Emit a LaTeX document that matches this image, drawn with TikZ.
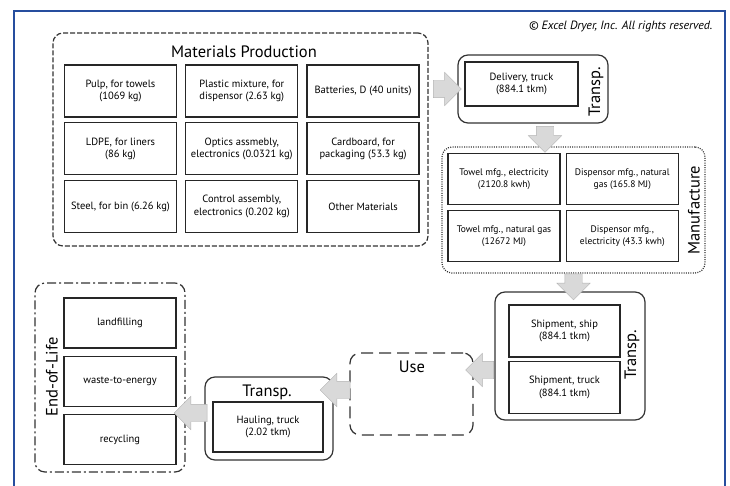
\documentclass[tikz,border=0pt]{standalone}
\usepackage{fontspec}
\setmainfont{PT Sans}
\usetikzlibrary{positioning,calc,shapes.arrows}
\definecolor{framebl}{RGB}{38,78,158}
\tikzstyle{procbox} = [draw=black!85,line width=1.3pt,minimum width=112pt,minimum height=51pt,align=center,inner sep=1pt,font=\fontsize{10.5}{12.5}\selectfont]
\tikzstyle{stage} = [draw=black!80,line width=1.2pt,rounded corners=10pt]
\tikzstyle{head} = [font=\fontsize{16.5}{18}\selectfont]
\tikzstyle{blockarrow} = [single arrow,draw=gray!60,fill=gray!30,minimum height=28pt,single arrow head extend=8pt,inner xsep=0pt,inner ysep=8.5pt]

\begin{document}
\begin{tikzpicture}[x=1pt,y=-1pt]
\useasboundingbox (0,0) rectangle (730,486);
\draw[framebl,line width=2.5pt] (14,11) rectangle (725,500);
\node[anchor=east,font=\fontsize{12}{14}\selectfont\itshape] (copy) at (716,27) {© Excel Dryer, Inc. All rights reserved.};

%Materials production
\node[stage,dash pattern=on 5pt off 2pt,minimum width=375pt,minimum height=213pt] (mp) at (240.5,139.5) {};
\node[head] (mptitle) at (244,52) {Materials Production};
\node[procbox,minimum height=52pt] (pulp) at (120.5,91) {Pulp, for towels\\(1069 kg)};
\node[procbox,minimum height=52pt,right=8pt of pulp] (plastic) {Plastic mixture, for\\dispensor (2.63 kg)};
\node[procbox,minimum height=52pt,right=8pt of plastic] (batt) {Batteries, D (40 units)};
\node[procbox,minimum height=52pt,below=4.5pt of pulp] (ldpe) {LDPE, for liners\\(86 kg)};
\node[procbox,minimum height=52pt,below=4.5pt of plastic] (optics) {Optics assmebly,\\electronics (0.0321 kg)};
\node[procbox,minimum height=52pt,below=4.5pt of batt] (card) {Cardboard, for\\packaging (53.3 kg)};
\node[procbox,minimum height=52pt,below=4.5pt of ldpe] (steel) {Steel, for bin (6.26 kg)};
\node[procbox,minimum height=52pt,below=4.5pt of optics] (control) {Control assembly,\\electronics (0.202 kg)};
\node[procbox,minimum height=52pt,below=4.5pt of card] (other) {Other Materials};

%Transport to factory
\node[stage,minimum width=150pt,minimum height=68pt] (transpA) at (533,89) {};
\node[procbox,minimum width=113pt,minimum height=44pt] (delivery) at (521.5,84) {Delivery, truck\\(884.1 tkm)};
\node[head,rotate=90] (transpAlbl) at (596,92) {Transp.};

%Manufacture
\node[stage,dash pattern=on 1pt off 1.3pt,minimum width=263pt,minimum height=126pt] (manuf) at (573.5,210) {};
\node[procbox,font=\fontsize{9.5}{12}\selectfont] (tmfgE) at (504,179) {Towel mfg., electricity\\(2120.8 kwh)};
\node[procbox,font=\fontsize{9.5}{12}\selectfont,right=5pt of tmfgE] (dmfgG) {Dispensor mfg., natural\\gas (165.8 MJ)};
\node[procbox,font=\fontsize{9.5}{12}\selectfont,below=5pt of tmfgE] (tmfgG) {Towel mfg., natural gas\\(12672 MJ)};
\node[procbox,font=\fontsize{9.5}{12}\selectfont,below=5pt of dmfgG] (dmfgE) {Dispensor mfg.,\\electricity (43.3 kwh)};
\node[head,rotate=90] (manuflbl) at (694,210) {Manufacture};

%Transport to user
\node[stage,minimum width=150pt,minimum height=128pt] (transpB) at (570,356) {};
\node[procbox,minimum width=111pt,minimum height=52pt] (ship) at (564.5,331) {Shipment, ship\\(884.1 tkm)};
\node[procbox,minimum width=111pt,minimum height=52pt,below=3pt of ship] (truck) {Shipment, truck\\(884.1 tkm)};
\node[head,rotate=90] (transpBlbl) at (632,355) {Transp.};

%Use
\node[stage,dash pattern=on 12pt off 6pt,minimum width=123pt,minimum height=82pt] (use) at (411.5,394) {};
\node[head] (uselbl) at (412,367) {Use};

%Transport to disposal
\node[stage,minimum width=128pt,minimum height=83pt] (transpC) at (269,418.5) {};
\node[head] (transpClbl) at (267,392) {Transp.};
\node[procbox,minimum width=110pt,minimum height=50pt] (hauling) at (268,427) {Hauling, truck\\(2.02 tkm)};

%End of life
\node[stage,dash pattern=on 9pt off 3pt on 2pt off 3pt,minimum width=150pt,minimum height=189pt] (eol) at (110,377.5) {};
\node[procbox,minimum height=50pt] (landfill) at (120,323) {landfilling};
\node[procbox,minimum height=50pt,below=7pt of landfill] (wte) {waste-to-energy};
\node[procbox,minimum height=50pt,below=7pt of wte] (recyc) {recycling};
\node[head,rotate=90] (eollbl) at (52,377) {End-of-Life};

%Arrows
\coordinate (a1) at ($(mp.east)!0.5!(transpA.west)$);
\node[blockarrow] (arr1) at (a1 |- transpA) {};
\node[blockarrow,rotate=-90,minimum height=26pt] (arr2) at ($(transpA.south)!0.5!(transpA.south |- manuf.north)+(12,0)$) {};
\node[blockarrow,rotate=-90,minimum height=26pt] (arr3) at ($(manuf.south)!0.5!(manuf.south |- transpB.north)$) {};
\node[blockarrow,rotate=180] (arr4) at ($(use.east)!0.5!(use.east -| transpB.west)+(0,-24)$) {};
\node[blockarrow,rotate=180,minimum height=30pt] (arr5) at ($(use.west)!0.5!(use.west -| transpC.east)+(-2,-4)$) {};
\node[blockarrow,rotate=180,minimum height=33pt] (arr6) at ($(eol.east |- transpC)!0.5!(transpC.west)+(0,-5.5)$) {};

\end{tikzpicture}
\end{document}
